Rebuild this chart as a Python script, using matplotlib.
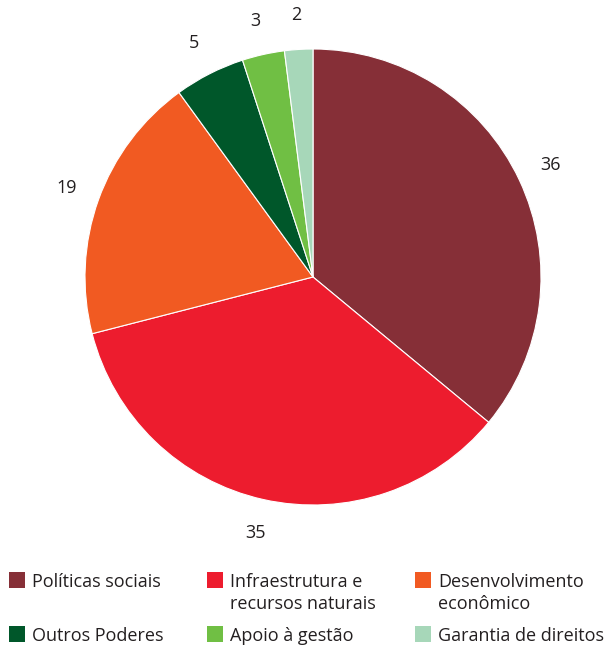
import matplotlib
matplotlib.use('Agg')
import matplotlib.pyplot as plt
from matplotlib.patches import Rectangle

categories = ['Políticas sociais', 'Infraestrutura e\nrecursos naturais', 'Desenvolvimento\neconômico',
              'Outros Poderes', 'Apoio à gestão', 'Garantia de direitos']
values = [36, 35, 19, 5, 3, 2]
colors = ['#862F37', '#ED1C2E', '#F15A22', '#00572A', '#70BF44', '#A7D7B9']

plt.rcParams['font.family'] = ['Open Sans', 'DejaVu Sans']
txt_color = '#231F20'

W, H = 613, 646
fig = plt.figure(figsize=(W / 100, H / 100), dpi=100)

# pie centred at (313, 277) px, radius 228 px
cx, cy, r = 313, 277, 228
ax = fig.add_axes([(cx - r) / W, (H - cy - r) / H, 2 * r / W, 2 * r / H])
wedges, texts, autotexts = ax.pie(values, colors=colors, startangle=90, counterclock=False,
                                  autopct=lambda p: '%.0f' % p, pctdistance=1.15,
                                  wedgeprops=dict(edgecolor='white', linewidth=0.8))
for t in autotexts:
    t.set_fontsize(13)
    t.set_color(txt_color)
ax.set_xlim(-1, 1)
ax.set_ylim(-1, 1)
ax.set_aspect('equal')
ax.axis('off')

# legend, 3 columns x 2 rows, drawn by hand so the swatch sits on the first line
col_x = [9, 207, 415]
row_y = [572, 626]
for i, (lab, col) in enumerate(zip(categories, colors)):
    x = col_x[i % 3]
    y = row_y[i // 3]
    fig.patches.append(Rectangle((x / W, 1 - (y + 16) / H), 16 / W, 16 / H,
                                 transform=fig.transFigure, facecolor=col, edgecolor='none'))
    for j, line in enumerate(lab.split('\n')):
        base = y + 15 + 22 * j
        fig.text((x + 23) / W, 1 - base / H, line, fontsize=13, color=txt_color,
                 va='baseline', ha='left')

fig.savefig('out.png', dpi=100)
